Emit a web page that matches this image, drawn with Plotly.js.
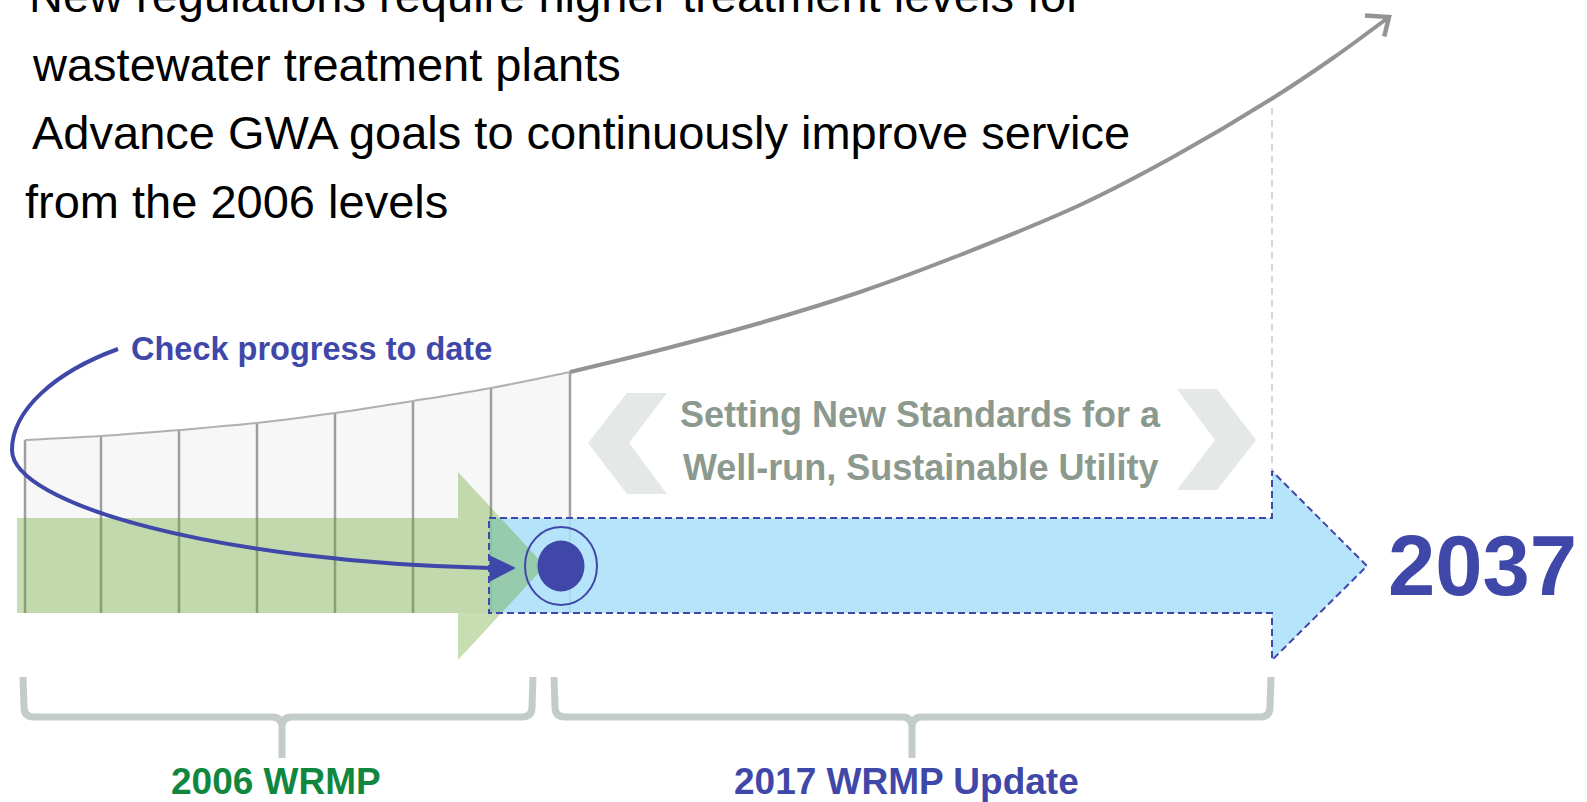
<!DOCTYPE html>
<html><head><meta charset="utf-8">
<script src="https://cdn.plot.ly/plotly-3.0.1.min.js"></script>
<style>html,body{margin:0;padding:0;background:#fff;overflow:hidden;}#chart{width:1587px;height:802px;}</style>
</head><body><div id="chart"></div>
<script>
// ---------------- data (diagram units) ----------------
const headlineLines = [
  "New regulations require higher treatment levels for",
  "wastewater treatment plants",
  "Advance GWA goals to continuously improve service",
  "from the 2006 levels"
];
const progressLabel = "Check progress to date";
const standardsLines = ["Setting New Standards for a", "Well-run, Sustainable Utility"];
const endYearLabel = "2037";
const periodLabels = ["2006 WRMP", "2017 WRMP Update"];

// growth curve sampled along its length
const growthX = [25, 101, 179, 257, 335, 413, 491, 570, 660, 760, 860, 960, 1080, 1173, 1273, 1333, 1389];
const growthY = [440, 436, 430, 423, 413, 401, 388, 372, 350, 323, 292, 255, 205, 157, 98, 58, 17];
const stepCount = 8;            // first 8 samples carry the vertical step bars
const stepFloor = 613;

// period arrows (outline polygons)
const greenArrowX = [17, 458, 458, 545, 458, 458, 17];
const greenArrowY = [518, 518, 472, 566, 660, 613, 613];
const blueArrowX  = [489, 1272, 1272, 1367, 1272, 1272, 489, 489];
const blueArrowY  = [518, 518, 471, 566, 660, 613, 613, 518];

// chevrons framing the standards message
const leftChevronX  = [667, 627, 588, 627, 667, 629];
const leftChevronY  = [393, 393, 443, 494, 494, 443];
const rightChevronX = [1177, 1217, 1256, 1217, 1177, 1215];
const rightChevronY = [389, 389, 440, 490, 490, 440];

// horizon marker
const horizonX = [1272, 1272];
const horizonY = [108, 471];

// "check progress" loop: start, two cubic segments
const loopPts = [[118, 349], [55, 372], [12, 410], [12, 450], [12, 505], [220, 562], [490, 568]];
const loopHead = [[490, 556], [515, 568], [490, 581]];
const milestone = {cx: 561, cy: 566, r1x: 23.5, r1y: 25.5, r2x: 36, r2y: 39};

// period brackets: [left, middle, right]
const bracketSpans = [[23, 282, 533], [554, 912, 1271]];

// ---------------- styling ----------------
const BLUE = '#3f48a8';
const GREEN_TXT = '#10873f';
const GREY_TXT = '#8b998e';
const FONT = 'Liberation Sans, Arial, Helvetica, sans-serif';

const traces = [];
const nl = {hoverinfo: 'skip', showlegend: false};

// faint fill below the historic part of the curve
traces.push(Object.assign({x: [growthX[0], growthX[stepCount - 1]], y: [stepFloor, stepFloor], mode: 'lines', line: {width: 0}}, nl));
traces.push(Object.assign({x: growthX.slice(0, stepCount), y: growthY.slice(0, stepCount), mode: 'lines',
  line: {width: 0, shape: 'spline'}, fill: 'tonexty', fillcolor: 'rgba(242,242,242,0.6)'}, nl));

// vertical step bars
const bx = [], by = [];
for (let i = 0; i < stepCount; i++) { bx.push(growthX[i], growthX[i], null); by.push(growthY[i], stepFloor, null); }
traces.push(Object.assign({x: bx, y: by, mode: 'lines', line: {color: '#9e9e9e', width: 2.5}}, nl));

// growth curve: historic (light) and future (darker)
traces.push(Object.assign({x: growthX.slice(0, stepCount), y: growthY.slice(0, stepCount), mode: 'lines',
  line: {color: '#b0b0b0', width: 2, shape: 'spline'}}, nl));
traces.push(Object.assign({x: growthX.slice(stepCount - 1), y: growthY.slice(stepCount - 1), mode: 'lines',
  line: {color: '#939393', width: 4, shape: 'spline'}}, nl));
// open arrow head at the end of the curve
(function () {
  const n = growthX.length;
  const tx = growthX[n - 1], ty = growthY[n - 1];
  const dx = tx - growthX[n - 2], dy = ty - growthY[n - 2];
  const L = Math.hypot(dx, dy), bxv = -dx / L, byv = -dy / L;
  const a = 40 * Math.PI / 180, c = Math.cos(a), s = Math.sin(a);
  const w1 = [tx + 24 * (bxv * c - byv * s), ty + 24 * (bxv * s + byv * c)];
  const w2 = [tx + 20 * (bxv * c + byv * s), ty + 20 * (-bxv * s + byv * c)];
  traces.push(Object.assign({x: [w1[0], tx, w2[0]], y: [w1[1], ty, w2[1]], mode: 'lines',
    line: {color: '#939393', width: 4.5}}, nl));
})();

// horizon dashed line
traces.push(Object.assign({x: horizonX, y: horizonY, mode: 'lines', line: {color: '#c6cecb', width: 1.5, dash: '7px,5px'}}, nl));

// blue (update) arrow, then translucent green (2006) arrow over it
traces.push(Object.assign({x: blueArrowX, y: blueArrowY, mode: 'lines', fill: 'toself',
  fillcolor: 'rgba(172,224,249,0.88)', line: {width: 0}}, nl));
traces.push(Object.assign({x: greenArrowX, y: greenArrowY, mode: 'lines', fill: 'toself',
  fillcolor: 'rgba(92,161,32,0.35)', line: {width: 0}}, nl));
traces.push(Object.assign({x: blueArrowX, y: blueArrowY, mode: 'lines',
  line: {color: BLUE, width: 2, dash: '7px,4px'}}, nl));

// chevrons
traces.push(Object.assign({x: leftChevronX, y: leftChevronY, mode: 'lines', fill: 'toself', fillcolor: '#e4e8e6', line: {width: 0}}, nl));
traces.push(Object.assign({x: rightChevronX, y: rightChevronY, mode: 'lines', fill: 'toself', fillcolor: '#e4e8e6', line: {width: 0}}, nl));

// ---------------- shapes ----------------
const shapes = [];
const p = loopPts;
shapes.push({type: 'path', xref: 'x', yref: 'y', layer: 'above',
  path: `M ${p[0][0]},${p[0][1]} C ${p[1][0]},${p[1][1]} ${p[2][0]},${p[2][1]} ${p[3][0]},${p[3][1]} C ${p[4][0]},${p[4][1]} ${p[5][0]},${p[5][1]} ${p[6][0]},${p[6][1]}`,
  line: {color: BLUE, width: 4}});
shapes.push({type: 'path', xref: 'x', yref: 'y', layer: 'above',
  path: `M ${loopHead[0][0]},${loopHead[0][1]} L ${loopHead[1][0]},${loopHead[1][1]} L ${loopHead[2][0]},${loopHead[2][1]} Z`,
  fillcolor: BLUE, line: {color: BLUE, width: 1}});
const m = milestone;
shapes.push({type: 'circle', xref: 'x', yref: 'y', layer: 'above', x0: m.cx - m.r2x, x1: m.cx + m.r2x, y0: m.cy - m.r2y, y1: m.cy + m.r2y,
  line: {color: BLUE, width: 2}, fillcolor: 'rgba(0,0,0,0)'});
shapes.push({type: 'circle', xref: 'x', yref: 'y', layer: 'above', x0: m.cx - m.r1x, x1: m.cx + m.r1x, y0: m.cy - m.r1y, y1: m.cy + m.r1y,
  line: {width: 0}, fillcolor: BLUE});

// brackets
const yTop = 677, yBar = 717, yStem = 758, r = 10;
bracketSpans.forEach(([xl, xm, xr]) => {
  const path = `M ${xl},${yTop} L ${xl + 1},${yBar - r} Q ${xl + 1},${yBar} ${xl + 1 + r},${yBar} L ${xm - r},${yBar} Q ${xm},${yBar} ${xm},${yBar + r} L ${xm},${yStem} ` +
               `M ${xm},${yBar + r} Q ${xm},${yBar} ${xm + r},${yBar} L ${xr - 1 - r},${yBar} Q ${xr - 1},${yBar} ${xr - 1},${yBar - r} L ${xr},${yTop}`;
  shapes.push({type: 'path', xref: 'x', yref: 'y', layer: 'above', path: path, line: {color: '#c3ccc8', width: 7}});
});

// ---------------- annotations ----------------
const ann = [];
const H = 802;
const headX = [27, 30, 30, 22.5];
const headY = [-5, 64, 133, 202];
headlineLines.forEach((t, i) => ann.push({x: headX[i], y: 1 - headY[i] / H, xref: 'x', yref: 'paper', text: t, showarrow: false,
  xanchor: 'left', yanchor: 'middle', font: {family: FONT, size: 47, color: '#000'}}));
ann.push({x: 311, y: 348.5, xref: 'x', yref: 'y', text: '<b>' + progressLabel + '</b>', showarrow: false,
  xanchor: 'center', yanchor: 'middle', font: {family: FONT, size: 32.5, color: BLUE}});
standardsLines.forEach((t, i) => ann.push({x: 920, y: [414.5, 467.5][i], xref: 'x', yref: 'y', text: '<b>' + t + '</b>', showarrow: false,
  xanchor: 'center', yanchor: 'middle', font: {family: FONT, size: 36, color: GREY_TXT}}));
ann.push({x: 1482, y: 565, xref: 'x', yref: 'y', text: '<b>' + endYearLabel + '</b>', showarrow: false,
  xanchor: 'center', yanchor: 'middle', font: {family: FONT, size: 85, color: BLUE}});
ann.push({x: 276, y: 781, xref: 'x', yref: 'y', text: '<b>' + periodLabels[0] + '</b>', showarrow: false,
  xanchor: 'center', yanchor: 'middle', font: {family: FONT, size: 37, color: GREEN_TXT}});
ann.push({x: 906, y: 781, xref: 'x', yref: 'y', text: '<b>' + periodLabels[1] + '</b>', showarrow: false,
  xanchor: 'center', yanchor: 'middle', font: {family: FONT, size: 37, color: BLUE}});

const layout = {
  width: 1587, height: 802,
  margin: {l: 0, r: 0, t: 0, b: 0, pad: 0},
  paper_bgcolor: '#ffffff', plot_bgcolor: '#ffffff',
  xaxis: {range: [0, 1587], visible: false, fixedrange: true},
  yaxis: {range: [802, 0], visible: false, fixedrange: true},
  showlegend: false,
  shapes: shapes,
  annotations: ann
};
Plotly.newPlot('chart', traces, layout, {displayModeBar: false, staticPlot: true});
</script>
</body></html>
